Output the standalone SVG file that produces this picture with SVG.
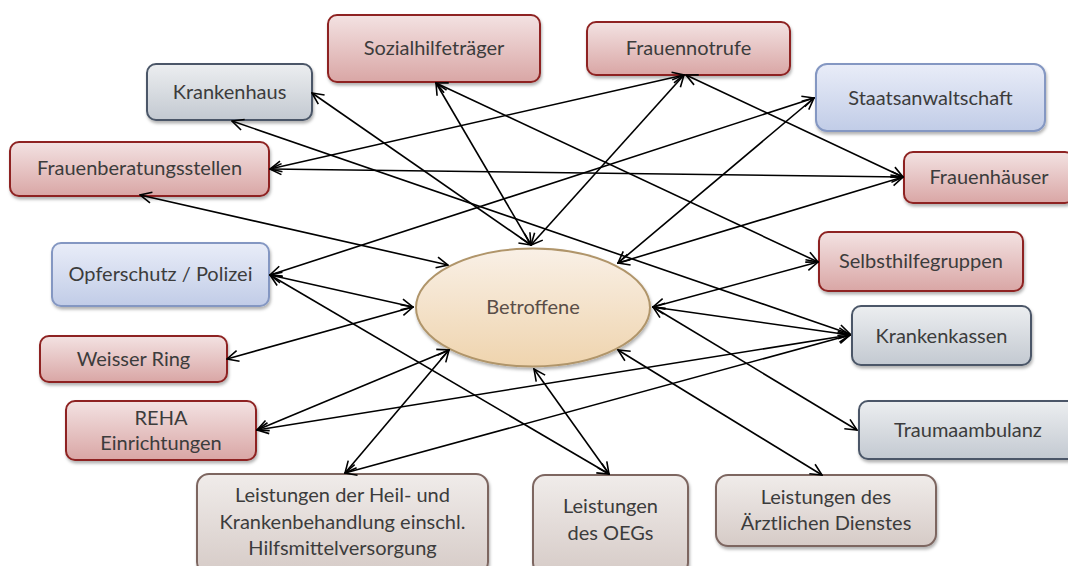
<svg xmlns="http://www.w3.org/2000/svg" width="1068" height="566" viewBox="0 0 1068 566">
<defs>
<linearGradient id="gRed" x1="0" y1="0" x2="0" y2="1"><stop offset="0" stop-color="#f3e2e2"/><stop offset="1" stop-color="#d9a6a5"/></linearGradient>
<linearGradient id="gGray" x1="0" y1="0" x2="0" y2="1"><stop offset="0" stop-color="#eceef0"/><stop offset="1" stop-color="#c3c9d1"/></linearGradient>
<linearGradient id="gBlue" x1="0" y1="0" x2="0" y2="1"><stop offset="0" stop-color="#e9edf8"/><stop offset="1" stop-color="#c1cce7"/></linearGradient>
<linearGradient id="gTaupe" x1="0" y1="0" x2="0" y2="1"><stop offset="0" stop-color="#f0ecea"/><stop offset="1" stop-color="#d6cbc7"/></linearGradient>
<linearGradient id="gEll" x1="0" y1="0" x2="0" y2="1"><stop offset="0" stop-color="#f9f0e6"/><stop offset="1" stop-color="#efd4ae"/></linearGradient>
<filter id="sh" x="-10%" y="-10%" width="125%" height="140%"><feDropShadow dx="1" dy="2.5" stdDeviation="1.5" flood-color="#000" flood-opacity="0.3"/></filter>
<marker id="ar" viewBox="0 0 14 14" refX="13" refY="7" markerWidth="14" markerHeight="14" markerUnits="userSpaceOnUse" orient="auto-start-reverse"><path d="M1.5,1.5 L13,7 L1.5,12.5" fill="none" stroke="#000" stroke-width="1.6"/></marker>
</defs>
<style>
.red{fill:url(#gRed);stroke:#8e2421;stroke-width:2;filter:url(#sh)}
.gray{fill:url(#gGray);stroke:#4b5768;stroke-width:2;filter:url(#sh)}
.blue{fill:url(#gBlue);stroke:#8497c2;stroke-width:2;filter:url(#sh)}
.taupe{fill:url(#gTaupe);stroke:#7d6661;stroke-width:2;filter:url(#sh)}
.ell{fill:url(#gEll);stroke:#b0956a;stroke-width:2;filter:url(#sh)}
text{font-family:Lato,"Open Sans","Liberation Sans",sans-serif;font-size:20px;fill:#3c3c3c;text-anchor:middle}
.et{fill:#5a4e48}
#conn line{stroke:#000;stroke-width:1.6;marker-start:url(#ar);marker-end:url(#ar)}
</style>
<rect width="1068" height="566" fill="#fff"/>
<g id="n-sozial"><rect class="red" x="328" y="15" width="212" height="67" rx="9"/><text x="434" y="55">Sozialhilfeträger</text></g>
<g id="n-krankenhaus"><rect class="gray" x="147" y="64" width="165" height="56" rx="9"/><text x="229.5" y="99">Krankenhaus</text></g>
<g id="n-frauenberatung"><rect class="red" x="10" y="142" width="259" height="54" rx="9"/><text x="139.5" y="175">Frauenberatungsstellen</text></g>
<g id="n-opferschutz"><rect class="blue" x="52" y="243" width="217" height="63" rx="9"/><text x="160.5" y="281">Opferschutz / Polizei</text></g>
<g id="n-weisser"><rect class="red" x="40" y="336" width="187" height="46" rx="9"/><text x="133.5" y="366">Weisser Ring</text></g>
<g id="n-reha"><rect class="red" x="66" y="401" width="190" height="59" rx="9"/><text x="161" y="425">REHA</text><text x="161" y="450">Einrichtungen</text></g>
<g id="n-heil"><rect class="taupe" x="197" y="474" width="291" height="100" rx="12"/><text x="342.5" y="502">Leistungen der Heil- und</text><text x="342.5" y="529">Krankenbehandlung einschl.</text><text x="342.5" y="555">Hilfsmittelversorgung</text></g>
<g id="n-oeg"><rect class="taupe" x="533" y="475" width="155" height="100" rx="12"/><text x="610.5" y="513">Leistungen</text><text x="610.5" y="540">des OEGs</text></g>
<g id="n-aerztl"><rect class="taupe" x="716" y="475" width="220" height="71" rx="12"/><text x="826" y="504">Leistungen des</text><text x="826" y="530">Ärztlichen Dienstes</text></g>
<g id="n-trauma"><rect class="gray" x="859" y="401" width="218" height="58" rx="9"/><text x="968" y="437">Traumaambulanz</text></g>
<g id="n-kassen"><rect class="gray" x="852" y="306" width="179" height="59" rx="9"/><text x="941.5" y="343">Krankenkassen</text></g>
<g id="n-selbst"><rect class="red" x="819" y="232" width="204" height="59" rx="9"/><text x="921" y="268">Selbsthilfegruppen</text></g>
<g id="n-frauenhaeuser"><rect class="red" x="904" y="152" width="170" height="51" rx="9"/><text x="989" y="184">Frauenhäuser</text></g>
<g id="n-staats"><rect class="blue" x="816" y="64" width="229" height="67" rx="11"/><text x="930.5" y="105">Staatsanwaltschaft</text></g>
<g id="n-notrufe"><rect class="red" x="587" y="22" width="203" height="53" rx="9"/><text x="688.5" y="55">Frauennotrufe</text></g>
<g id="n-betroffene"><ellipse class="ell" cx="533" cy="307.5" rx="117" ry="59"/><text class="et" x="533" y="314">Betroffene</text></g>
<g id="conn">
<line x1="312" y1="93" x2="531" y2="245"/>
<line x1="436" y1="83" x2="531" y2="245"/>
<line x1="436" y1="83" x2="818" y2="262"/>
<line x1="232" y1="121" x2="850" y2="334"/>
<line x1="270" y1="169" x2="684" y2="75"/>
<line x1="270" y1="169" x2="903" y2="177"/>
<line x1="140" y1="195" x2="448" y2="265"/>
<line x1="270" y1="275" x2="814" y2="98"/>
<line x1="531" y1="245" x2="684" y2="75"/>
<line x1="686" y1="75" x2="903" y2="177"/>
<line x1="618" y1="263" x2="814" y2="98"/>
<line x1="618" y1="263" x2="903" y2="177"/>
<line x1="653" y1="307" x2="818" y2="262"/>
<line x1="653" y1="307" x2="850" y2="335"/>
<line x1="653" y1="307" x2="857" y2="430"/>
<line x1="618" y1="350" x2="822" y2="475"/>
<line x1="534" y1="369" x2="609" y2="474"/>
<line x1="270" y1="275" x2="609" y2="474"/>
<line x1="270" y1="275" x2="413" y2="307"/>
<line x1="227" y1="359" x2="413" y2="307"/>
<line x1="257" y1="430" x2="449" y2="350"/>
<line x1="257" y1="430" x2="850" y2="335"/>
<line x1="345" y1="473" x2="449" y2="350"/>
<line x1="345" y1="473" x2="850" y2="335"/>
</g>
</svg>
